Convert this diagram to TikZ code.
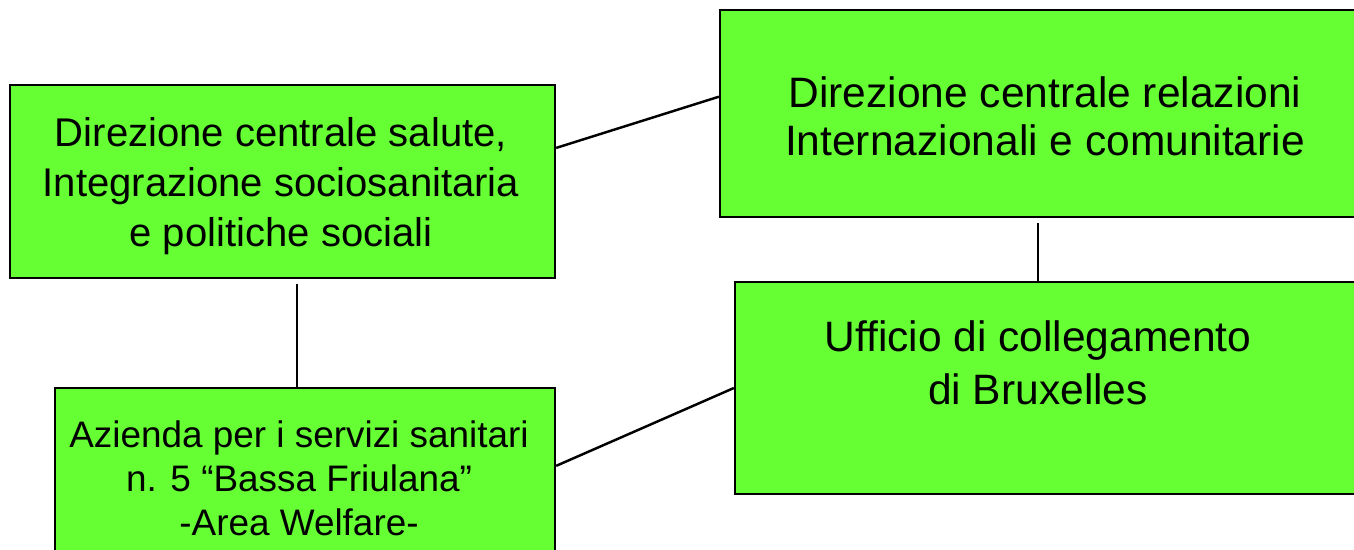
\documentclass[tikz,border=0pt]{standalone}
\usepackage{fontspec}
\setmainfont{Liberation Sans}
\usepackage{xcolor}
\usetikzlibrary{calc}
\definecolor{boxgreen}{RGB}{102,255,51}

\begin{document}
\begin{tikzpicture}[x=0.02cm,y=-0.02cm,line width=1.4pt,
    box/.style={draw,fill=boxgreen,rectangle,inner sep=0pt},
    txt/.style={align=center,font=\fontsize{22.8}{28.5}\selectfont}]
    \useasboundingbox (0,0) rectangle (1354,549);

    \node[box,minimum width=10.9cm,minimum height=3.86cm] (sal) at (282.5,181.5) {};
    \node[box,minimum width=12.76cm,minimum height=4.14cm] (rel) at (1039,113.5) {};
    \node[box,minimum width=12.46cm,minimum height=4.24cm] (uff) at (1046.5,388) {};
    \node[box,minimum width=10cm,minimum height=3.64cm] (azi) at (305,479) {};

    \node[txt] (salT) at (281,186) {Direzione centrale salute,\\Integrazione sociosanitaria\\e politiche sociali};
    \node[txt,font=\fontsize{24.2}{27.5}\selectfont] (relT) at (1045,116) {Direzione centrale relazioni\\Internazionali e comunitarie};
    \node[txt,font=\fontsize{24.2}{30}\selectfont] (uffT) at (1038,363) {Ufficio di collegamento\\di Bruxelles};
    \node[txt,font=\fontsize{21}{25}\selectfont] (aziT) at (299,478) {Azienda per i servizi sanitari\\n. 5 “Bassa Friulana”\\ -Area Welfare-};

    \draw (sal.7) -- (rel.177.6);
    \draw ($(sal.south)+(14.5,5)$) coordinate (a) -- (a |- azi.north);
    \draw ($(rel.south)+(-1,5)$) coordinate (b) -- (b |- uff.north);
    \draw (azi.3.7) -- (uff.west);
\end{tikzpicture}
\end{document}
